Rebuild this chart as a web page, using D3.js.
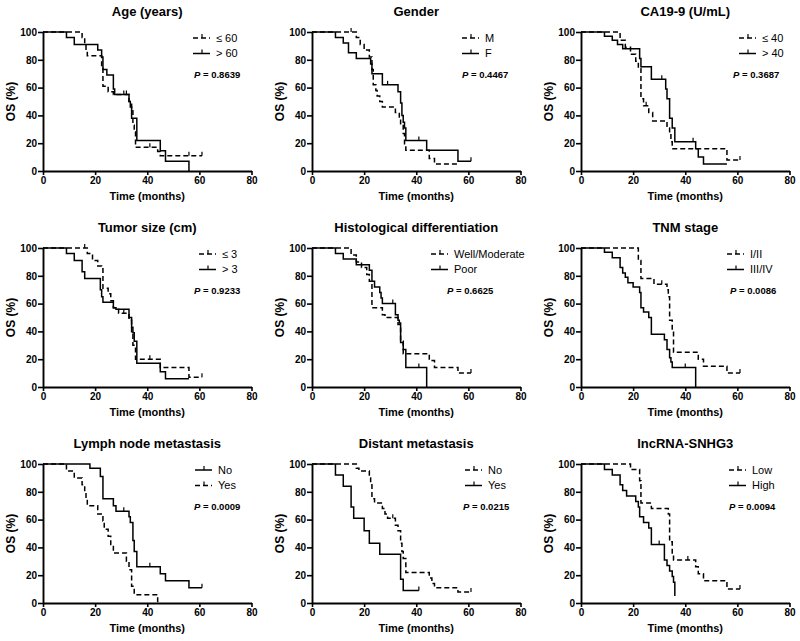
<!DOCTYPE html>
<html><head><meta charset="utf-8">
<script src="https://cdn.jsdelivr.net/npm/d3@7"></script>
<style>
body{margin:0;background:#fff}
svg{display:block}
text{font-family:Arial,"Liberation Sans",sans-serif;fill:#000}
</style>
</head><body>
<svg id="c" width="800" height="641"></svg>
<script>
// ---------- data ----------
const titles = ["Age (years)","Gender","CA19-9 (U/mL)","Tumor size (cm)","Histological differentiation","TNM stage","Lymph node metastasis","Distant metastasis","lncRNA-SNHG3"];
const legendLabels = [["≤ 60","> 60"],["M","F"],["≤ 40","> 40"],["≤ 3","> 3"],["Well/Moderate","Poor"],["I/II","III/IV"],["No","Yes"],["No","Yes"],["Low","High"]];
// which legend entry is dashed (index 0 or 1)
const dashedIndex = [0,0,0,0,0,0,1,0,0];
const pValues = ["0.8639","0.4467","0.3687","0.9233","0.6625","0.0086","0.0009","0.0215","0.0094"];
const xTicks = [0,20,40,60,80];
const yTicks = [0,20,40,60,80,100];

// step points [time (months), OS (%)] and censor times, per group
const age_le60 = [[0,100],[15,96],[16,91],[16.5,87],[17,83],[22.5,74],[23,61],[25,57],[27,55],[33,50],[34,44],[34.5,33],[35,28],[35.5,17],[44,14],[45,11],[61,11]];
const age_le60_c = [31,41,56,61];
const age_gt60 = [[0,100],[9,96],[12,91],[21,87],[22.5,82],[23,73],[24.5,69],[27,59],[27.5,55],[33,50],[33.5,46],[34,38],[36,22],[45,14.5],[47,7],[56,0]];
const age_gt60_c = [32];

const gen_m = [[0,100],[17,96],[18.5,91],[20,87],[22,82],[23,73],[23.5,62],[24.5,58],[25,54],[26,50],[27,46],[32,42],[33.5,38],[34,34],[35,27],[35.5,19],[36,15],[45,9],[47,5],[56,5]];
const gen_m_c = [15];
const gen_f = [[0,100],[9,96],[12,92],[14,85],[17,81],[22.5,77],[23,70],[27,62],[33,57],[34,49],[34.5,40],[35,35],[35.5,31],[36,22],[44,15],[56,7],[61,7]];
const gen_f_c = [29,41,61];

const ca_le40 = [[0,100],[15,94],[17,89],[19,84],[21,79],[22,74],[23,52],[24,47],[26,42],[27.5,36],[33,31],[34,26],[34.5,21],[35,16],[56,8],[61,8]];
const ca_le40_c = [25,61];
const ca_gt40 = [[0,100],[9,97],[12,94],[14,91],[16,88],[22.5,81],[23,75],[27,66],[32.5,59],[33,52],[34,38],[35,31],[36,21],[44,16],[45,10],[47,5],[56,5]];
const ca_gt40_c = [31,43];

const tum_le3 = [[0,100],[17,96],[19,91],[21,87],[22.5,85],[23,71],[25,67],[26,62],[27,57],[29,53],[33,48],[34,39],[34.5,30],[35.5,20],[45,14],[56,7],[61,7]];
const tum_le3_c = [16,31,41,61];
const tum_gt3 = [[0,100],[9,96],[12,91],[15,83],[16,78],[22,70],[22.5,65],[23,61],[27,57],[28,56],[33,50],[34,43],[34.5,39],[35,33],[36,17],[45,11],[47,6],[56,6]];
const tum_gt3_c = [];

const his_wm = [[0,100],[15,95],[17,90],[19,86],[21,81],[22,76],[23,57],[27,52],[28,50],[33,45],[34,33],[35,24],[45,19],[47,14],[56,10],[61,10]];
const his_wm_c = [61];
const his_poor = [[0,100],[9,96],[12,92],[17,88],[22,84],[23,76],[24,72],[26,68],[26.5,64],[27,60],[32,52],[33,48],[33.5,46],[34,32],[35,27],[36,14],[44,0]];
const his_poor_c = [31,41];

const tnm_12 = [[0,100],[22,91],[23,78],[28,74],[33,70],[33.5,65],[34,48],[35,40],[35.5,25],[45,20],[47,15],[56,10],[61,10]];
const tnm_12_c = [31,61];
const tnm_34 = [[0,100],[9,97],[12,93],[15,86],[16,82],[17,79],[18,75],[20,72],[22.5,68],[23,57],[24,54],[26,50],[27,38],[32,34],[33,27],[34,21],[34.5,18],[35,14],[44,0]];
const tnm_34_c = [40];

const lym_no = [[0,100],[18,97],[22,91],[23,75],[27,70],[28,66],[33,62],[33.5,58],[34.5,45],[35,37],[36,26],[45,21],[47,16],[56,11],[61,11]];
const lym_no_c = [31,41,61];
const lym_yes = [[0,100],[9,95],[12,90],[15,85],[16,80],[16.5,75],[17,70],[21,64],[23,59],[23.5,53],[25,48],[26,42],[27,36],[32,30],[33,24],[34,12],[35,6],[44,0]];
const lym_yes_c = [];

const dis_no = [[0,100],[17,97],[18,95],[22,90],[22.5,85],[23,75],[24,72],[27,68],[28,64],[29,61],[32,56],[33,52],[34,43],[34.5,37],[35,32],[36,22],[45,18],[46,14],[47,11],[56,8],[61,8]];
const dis_no_c = [31,61];
const dis_yes = [[0,100],[9,92],[12,84],[15,69],[16,61],[20,52],[22,43],[26,35],[34,17],[35,9],[41,9]];
const dis_yes_c = [41];

const lnc_low = [[0,100],[19,96],[22.5,88],[23,72],[27,68],[33.5,64],[34,44],[35,35],[35.5,31],[44,26],[45,21],[47,16],[56,10],[61,10]];
const lnc_low_c = [41,61];
const lnc_high = [[0,100],[9,96],[12,92],[15,85],[16,81],[17.5,77],[21,73],[22,69],[22.5,62],[24,58],[26,54],[27,42],[32,31],[33,27],[34,23],[35,19],[35.5,15],[36,5]];
const lnc_high_c = [30];

// groups per panel, in legend order
const groups = [
  [[age_le60,age_le60_c],[age_gt60,age_gt60_c]],
  [[gen_m,gen_m_c],[gen_f,gen_f_c]],
  [[ca_le40,ca_le40_c],[ca_gt40,ca_gt40_c]],
  [[tum_le3,tum_le3_c],[tum_gt3,tum_gt3_c]],
  [[his_wm,his_wm_c],[his_poor,his_poor_c]],
  [[tnm_12,tnm_12_c],[tnm_34,tnm_34_c]],
  [[lym_no,lym_no_c],[lym_yes,lym_yes_c]],
  [[dis_no,dis_no_c],[dis_yes,dis_yes_c]],
  [[lnc_low,lnc_low_c],[lnc_high,lnc_high_c]]
];

// ---------- layout ----------
const colLeft = [43, 312, 581];
const rowTop = [32, 248, 464];
const W = 208.5, H = 139;
const legX = [150,150,158,156,119,146,152,153,148];
const pX = [151,150,152,151,135,149,151,151,148];

const svg = d3.select("#c");
const x = d3.scaleLinear().domain([0,80]).range([0,W]);
const y = d3.scaleLinear().domain([0,100]).range([H,0]);
const line = d3.line().x(d=>x(d[0])).y(d=>y(d[1])).curve(d3.curveStepAfter);

function survAt(pts, t){
  let s = pts[0][1];
  for (const p of pts){ if (p[0] <= t) s = p[1]; }
  return s;
}

titles.forEach((title, i) => {
  const g = svg.append("g").attr("transform", `translate(${colLeft[i%3]},${rowTop[Math.floor(i/3)]})`);

  // title
  g.append("text").attr("x", W/2).attr("y", -16).attr("text-anchor","middle")
    .style("font-size","13px").style("font-weight","bold").text(title);

  // axes
  const ax = g.append("g").attr("transform", `translate(0,${H})`)
    .call(d3.axisBottom(x).tickValues(xTicks).tickSize(4).tickSizeOuter(0).tickPadding(1.5));
  const ay = g.append("g")
    .call(d3.axisLeft(y).tickValues(yTicks).tickSize(5).tickSizeOuter(0).tickPadding(1));
  [ax, ay].forEach(a => {
    a.select(".domain").attr("stroke","#000").attr("stroke-width",1.9);
    a.selectAll(".tick line").attr("stroke","#000").attr("stroke-width",1.6);
    a.selectAll(".tick text").style("font-size","10px").style("font-weight","bold").attr("fill","#000")
      .style("font-family",'Arial,"Liberation Sans",sans-serif');
  });

  // axis titles
  g.append("text").attr("x", W/2).attr("y", H+29).attr("text-anchor","middle")
    .style("font-size","11px").style("font-weight","bold").text("Time (months)");
  g.append("text").attr("transform", `translate(-28,${H/2}) rotate(-90)`).attr("text-anchor","middle")
    .style("font-size","12px").style("font-weight","bold").text("OS (%)");

  // curves
  groups[i].forEach((grp, k) => {
    const [pts, cens] = grp;
    const dashed = dashedIndex[i] === k;
    g.append("path").datum(pts).attr("d", line).attr("fill","none")
      .attr("stroke","#000").attr("stroke-width",1.5)
      .attr("stroke-dasharray", dashed ? "5,3" : null);
    g.selectAll(null).data(cens).enter().append("line")
      .attr("x1", t=>x(t)).attr("x2", t=>x(t))
      .attr("y1", t=>y(survAt(pts,t))).attr("y2", t=>y(survAt(pts,t))-4)
      .attr("stroke","#000").attr("stroke-width",1.2);
  });

  // legend
  legendLabels[i].forEach((lab, k) => {
    const ly = 6 + k*15.5;
    const lx = legX[i];
    const dashed = dashedIndex[i] === k;
    g.append("line").attr("x1", lx).attr("x2", lx+17).attr("y1", ly).attr("y2", ly)
      .attr("stroke","#000").attr("stroke-width",1.5).attr("stroke-dasharray", dashed ? "5,3" : null);
    g.append("line").attr("x1", lx+9).attr("x2", lx+9).attr("y1", ly).attr("y2", ly-4)
      .attr("stroke","#000").attr("stroke-width",1.2);
    g.append("text").attr("x", lx+23).attr("y", ly).attr("dy","0.35em")
      .style("font-size","11px").attr("fill","#222").text(lab);
  });

  // p value
  const pt = g.append("text").attr("x", pX[i]).attr("y", 43).attr("dy","0.35em")
    .style("font-size","9.5px").style("font-weight","bold");
  pt.append("tspan").style("font-style","italic").text("P");
  pt.append("tspan").text(" = " + pValues[i]);
});
</script>
</body></html>
